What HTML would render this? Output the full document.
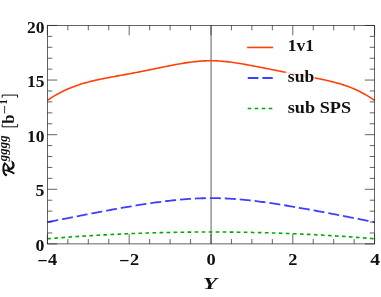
<!DOCTYPE html>
<html><head><meta charset="utf-8">
<style>
html,body{margin:0;padding:0;background:#fff;}
body{width:381px;height:297px;overflow:hidden;}
svg{display:block;will-change:transform;}
text{font-family:"Liberation Serif",serif;font-weight:bold;font-size:16.2px;fill:#111;}
</style></head><body>
<svg width="381" height="297" viewBox="0 0 381 297">
<rect width="381" height="297" fill="#fff"/>
<line x1="211.10" y1="25.45" x2="211.10" y2="243.9" stroke="#8a8a8a" stroke-width="1.4"/>
<path d="M47.40,100.42 L49.04,99.29 L50.69,98.20 L52.33,97.15 L53.98,96.14 L55.62,95.17 L57.27,94.23 L58.91,93.33 L60.55,92.46 L62.20,91.63 L63.84,90.82 L65.49,90.05 L67.13,89.31 L68.77,88.60 L70.42,87.92 L72.06,87.26 L73.71,86.63 L75.35,86.02 L77.00,85.44 L78.64,84.89 L80.28,84.35 L81.93,83.84 L83.57,83.34 L85.22,82.87 L86.86,82.41 L88.51,81.97 L90.15,81.55 L91.79,81.14 L93.44,80.75 L95.08,80.37 L96.73,80.00 L98.37,79.64 L100.02,79.30 L101.66,78.96 L103.30,78.63 L104.95,78.31 L106.59,77.99 L108.24,77.68 L109.88,77.37 L111.52,77.07 L113.17,76.77 L114.81,76.47 L116.46,76.16 L118.10,75.86 L119.75,75.56 L121.39,75.26 L123.03,74.96 L124.68,74.65 L126.32,74.35 L127.97,74.04 L129.61,73.73 L131.26,73.42 L132.90,73.11 L134.54,72.80 L136.19,72.49 L137.83,72.17 L139.48,71.85 L141.12,71.53 L142.76,71.20 L144.41,70.88 L146.05,70.55 L147.70,70.22 L149.34,69.88 L150.99,69.55 L152.63,69.21 L154.27,68.87 L155.92,68.53 L157.56,68.19 L159.21,67.85 L160.85,67.51 L162.50,67.17 L164.14,66.84 L165.78,66.50 L167.43,66.17 L169.07,65.85 L170.72,65.52 L172.36,65.20 L174.01,64.89 L175.65,64.58 L177.29,64.28 L178.94,63.98 L180.58,63.70 L182.23,63.42 L183.87,63.15 L185.51,62.89 L187.16,62.65 L188.80,62.41 L190.45,62.19 L192.09,61.97 L193.74,61.78 L195.38,61.59 L197.02,61.43 L198.67,61.27 L200.31,61.14 L201.96,61.02 L203.60,60.92 L205.25,60.84 L206.89,60.77 L208.53,60.73 L210.18,60.71 L211.82,60.71 L213.47,60.74 L215.11,60.80 L216.75,60.87 L218.40,60.96 L220.04,61.07 L221.69,61.20 L223.33,61.34 L224.98,61.50 L226.62,61.67 L228.26,61.86 L229.91,62.07 L231.55,62.28 L233.20,62.51 L234.84,62.75 L236.49,63.00 L238.13,63.25 L239.77,63.52 L241.42,63.80 L243.06,64.08 L244.71,64.37 L246.35,64.66 L247.99,64.96 L249.64,65.26 L251.28,65.57 L252.93,65.88 L254.57,66.19 L256.22,66.51 L257.86,66.82 L259.50,67.14 L261.15,67.46 L262.79,67.78 L264.44,68.10 L266.08,68.43 L267.73,68.75 L269.37,69.08 L271.01,69.41 L272.66,69.73 L274.30,70.06 L275.95,70.39 L277.59,70.72 L279.24,71.05 L280.88,71.38 L282.52,71.71 L284.17,72.04 L285.81,72.37 L287.46,72.69 L289.10,73.02 L290.74,73.35 L292.39,73.67 L294.03,74.00 L295.68,74.32 L297.32,74.64 L298.97,74.96 L300.61,75.28 L302.25,75.60 L303.90,75.91 L305.54,76.23 L307.19,76.54 L308.83,76.84 L310.48,77.15 L312.12,77.46 L313.76,77.77 L315.41,78.08 L317.05,78.40 L318.70,78.72 L320.34,79.05 L321.98,79.38 L323.63,79.73 L325.27,80.08 L326.92,80.44 L328.56,80.81 L330.21,81.20 L331.85,81.60 L333.49,82.02 L335.14,82.45 L336.78,82.90 L338.43,83.36 L340.07,83.85 L341.72,84.35 L343.36,84.88 L345.00,85.43 L346.65,86.00 L348.29,86.60 L349.94,87.23 L351.58,87.88 L353.23,88.56 L354.87,89.27 L356.51,90.01 L358.16,90.78 L359.80,91.58 L361.45,92.42 L363.09,93.29 L364.73,94.19 L366.38,95.14 L368.02,96.12 L369.67,97.14 L371.31,98.20 L372.96,99.31 L374.60,100.45" fill="none" stroke="#ff4008" stroke-width="1.6" stroke-linejoin="round"/>
<path d="M47.40,222.13 L49.04,221.81 L50.69,221.49 L52.33,221.17 L53.98,220.85 L55.62,220.53 L57.27,220.21 L58.91,219.89 L60.55,219.56 L62.20,219.24 L63.84,218.92 L65.49,218.60 L67.13,218.27 L68.77,217.95 L70.42,217.63 L72.06,217.30 L73.71,216.98 L75.35,216.66 L77.00,216.33 L78.64,216.01 L80.28,215.69 L81.93,215.37 L83.57,215.05 L85.22,214.73 L86.86,214.41 L88.51,214.09 L90.15,213.77 L91.79,213.46 L93.44,213.14 L95.08,212.83 L96.73,212.51 L98.37,212.20 L100.02,211.89 L101.66,211.58 L103.30,211.27 L104.95,210.96 L106.59,210.66 L108.24,210.35 L109.88,210.05 L111.52,209.75 L113.17,209.45 L114.81,209.15 L116.46,208.85 L118.10,208.56 L119.75,208.27 L121.39,207.98 L123.03,207.69 L124.68,207.40 L126.32,207.12 L127.97,206.84 L129.61,206.56 L131.26,206.28 L132.90,206.01 L134.54,205.74 L136.19,205.47 L137.83,205.21 L139.48,204.94 L141.12,204.68 L142.76,204.43 L144.41,204.17 L146.05,203.92 L147.70,203.67 L149.34,203.43 L150.99,203.18 L152.63,202.95 L154.27,202.71 L155.92,202.48 L157.56,202.26 L159.21,202.03 L160.85,201.82 L162.50,201.60 L164.14,201.39 L165.78,201.19 L167.43,200.99 L169.07,200.80 L170.72,200.61 L172.36,200.43 L174.01,200.25 L175.65,200.08 L177.29,199.92 L178.94,199.76 L180.58,199.61 L182.23,199.46 L183.87,199.32 L185.51,199.19 L187.16,199.06 L188.80,198.94 L190.45,198.83 L192.09,198.73 L193.74,198.63 L195.38,198.54 L197.02,198.46 L198.67,198.39 L200.31,198.33 L201.96,198.27 L203.60,198.23 L205.25,198.19 L206.89,198.16 L208.53,198.14 L210.18,198.13 L211.82,198.13 L213.47,198.13 L215.11,198.15 L216.75,198.18 L218.40,198.21 L220.04,198.26 L221.69,198.31 L223.33,198.37 L224.98,198.44 L226.62,198.52 L228.26,198.60 L229.91,198.70 L231.55,198.80 L233.20,198.91 L234.84,199.02 L236.49,199.15 L238.13,199.28 L239.77,199.42 L241.42,199.56 L243.06,199.71 L244.71,199.87 L246.35,200.03 L247.99,200.20 L249.64,200.38 L251.28,200.56 L252.93,200.75 L254.57,200.94 L256.22,201.14 L257.86,201.35 L259.50,201.56 L261.15,201.77 L262.79,201.99 L264.44,202.22 L266.08,202.45 L267.73,202.68 L269.37,202.92 L271.01,203.16 L272.66,203.40 L274.30,203.65 L275.95,203.90 L277.59,204.16 L279.24,204.42 L280.88,204.68 L282.52,204.95 L284.17,205.22 L285.81,205.49 L287.46,205.76 L289.10,206.04 L290.74,206.32 L292.39,206.60 L294.03,206.88 L295.68,207.17 L297.32,207.45 L298.97,207.74 L300.61,208.03 L302.25,208.32 L303.90,208.61 L305.54,208.91 L307.19,209.20 L308.83,209.50 L310.48,209.80 L312.12,210.09 L313.76,210.39 L315.41,210.69 L317.05,211.00 L318.70,211.30 L320.34,211.60 L321.98,211.91 L323.63,212.22 L325.27,212.53 L326.92,212.83 L328.56,213.14 L330.21,213.45 L331.85,213.77 L333.49,214.08 L335.14,214.39 L336.78,214.71 L338.43,215.02 L340.07,215.34 L341.72,215.66 L343.36,215.98 L345.00,216.30 L346.65,216.62 L348.29,216.94 L349.94,217.26 L351.58,217.58 L353.23,217.90 L354.87,218.23 L356.51,218.55 L358.16,218.87 L359.80,219.20 L361.45,219.53 L363.09,219.85 L364.73,220.18 L366.38,220.51 L368.02,220.84 L369.67,221.16 L371.31,221.49 L372.96,221.82 L374.60,222.15" fill="none" stroke="#3e3eff" stroke-width="1.8" stroke-dasharray="11.0 3.95" stroke-linejoin="round"/>
<path d="M47.40,238.76 L49.04,238.62 L50.69,238.49 L52.33,238.35 L53.98,238.22 L55.62,238.09 L57.27,237.97 L58.91,237.84 L60.55,237.71 L62.20,237.59 L63.84,237.47 L65.49,237.34 L67.13,237.22 L68.77,237.11 L70.42,236.99 L72.06,236.87 L73.71,236.76 L75.35,236.64 L77.00,236.53 L78.64,236.42 L80.28,236.31 L81.93,236.20 L83.57,236.10 L85.22,235.99 L86.86,235.89 L88.51,235.79 L90.15,235.68 L91.79,235.58 L93.44,235.49 L95.08,235.39 L96.73,235.29 L98.37,235.20 L100.02,235.11 L101.66,235.02 L103.30,234.93 L104.95,234.84 L106.59,234.75 L108.24,234.66 L109.88,234.58 L111.52,234.49 L113.17,234.41 L114.81,234.33 L116.46,234.25 L118.10,234.18 L119.75,234.10 L121.39,234.02 L123.03,233.95 L124.68,233.88 L126.32,233.81 L127.97,233.74 L129.61,233.67 L131.26,233.60 L132.90,233.54 L134.54,233.47 L136.19,233.41 L137.83,233.35 L139.48,233.29 L141.12,233.23 L142.76,233.17 L144.41,233.12 L146.05,233.06 L147.70,233.01 L149.34,232.96 L150.99,232.91 L152.63,232.86 L154.27,232.81 L155.92,232.76 L157.56,232.72 L159.21,232.67 L160.85,232.63 L162.50,232.59 L164.14,232.55 L165.78,232.51 L167.43,232.47 L169.07,232.44 L170.72,232.41 L172.36,232.37 L174.01,232.34 L175.65,232.31 L177.29,232.28 L178.94,232.26 L180.58,232.23 L182.23,232.20 L183.87,232.18 L185.51,232.16 L187.16,232.14 L188.80,232.12 L190.45,232.10 L192.09,232.09 L193.74,232.07 L195.38,232.06 L197.02,232.04 L198.67,232.03 L200.31,232.02 L201.96,232.02 L203.60,232.01 L205.25,232.00 L206.89,232.00 L208.53,232.00 L210.18,232.00 L211.82,232.00 L213.47,232.00 L215.11,232.00 L216.75,232.00 L218.40,232.01 L220.04,232.02 L221.69,232.02 L223.33,232.03 L224.98,232.04 L226.62,232.06 L228.26,232.07 L229.91,232.09 L231.55,232.10 L233.20,232.12 L234.84,232.14 L236.49,232.16 L238.13,232.18 L239.77,232.20 L241.42,232.23 L243.06,232.26 L244.71,232.28 L246.35,232.31 L247.99,232.34 L249.64,232.37 L251.28,232.41 L252.93,232.44 L254.57,232.47 L256.22,232.51 L257.86,232.55 L259.50,232.59 L261.15,232.63 L262.79,232.67 L264.44,232.72 L266.08,232.76 L267.73,232.81 L269.37,232.86 L271.01,232.91 L272.66,232.96 L274.30,233.01 L275.95,233.06 L277.59,233.12 L279.24,233.17 L280.88,233.23 L282.52,233.29 L284.17,233.35 L285.81,233.41 L287.46,233.47 L289.10,233.54 L290.74,233.60 L292.39,233.67 L294.03,233.74 L295.68,233.81 L297.32,233.88 L298.97,233.95 L300.61,234.02 L302.25,234.10 L303.90,234.18 L305.54,234.25 L307.19,234.33 L308.83,234.41 L310.48,234.49 L312.12,234.58 L313.76,234.66 L315.41,234.75 L317.05,234.84 L318.70,234.93 L320.34,235.02 L321.98,235.11 L323.63,235.20 L325.27,235.29 L326.92,235.39 L328.56,235.49 L330.21,235.58 L331.85,235.68 L333.49,235.79 L335.14,235.89 L336.78,235.99 L338.43,236.10 L340.07,236.20 L341.72,236.31 L343.36,236.42 L345.00,236.53 L346.65,236.64 L348.29,236.76 L349.94,236.87 L351.58,236.99 L353.23,237.11 L354.87,237.22 L356.51,237.34 L358.16,237.47 L359.80,237.59 L361.45,237.71 L363.09,237.84 L364.73,237.97 L366.38,238.09 L368.02,238.22 L369.67,238.35 L371.31,238.49 L372.96,238.62 L374.60,238.76" fill="none" stroke="#00aa00" stroke-width="1.6" stroke-dasharray="3.65 3.37" stroke-linejoin="round"/>
<path d="M47.40,243.9v-9.8 M47.40,25.45v9.8 M67.85,243.9v-4.9 M67.85,25.45v4.9 M88.30,243.9v-4.9 M88.30,25.45v4.9 M108.75,243.9v-4.9 M108.75,25.45v4.9 M129.20,243.9v-9.8 M129.20,25.45v9.8 M149.65,243.9v-4.9 M149.65,25.45v4.9 M170.10,243.9v-4.9 M170.10,25.45v4.9 M190.55,243.9v-4.9 M190.55,25.45v4.9 M211.00,243.9v-9.8 M211.00,25.45v9.8 M231.45,243.9v-4.9 M231.45,25.45v4.9 M251.90,243.9v-4.9 M251.90,25.45v4.9 M272.35,243.9v-4.9 M272.35,25.45v4.9 M292.80,243.9v-9.8 M292.80,25.45v9.8 M313.25,243.9v-4.9 M313.25,25.45v4.9 M333.70,243.9v-4.9 M333.70,25.45v4.9 M354.15,243.9v-4.9 M354.15,25.45v4.9 M374.60,243.9v-9.8 M374.60,25.45v9.8 M47.4,243.90h9.8 M374.6,243.90h-9.8 M47.4,232.98h4.9 M374.6,232.98h-4.9 M47.4,222.06h4.9 M374.6,222.06h-4.9 M47.4,211.13h4.9 M374.6,211.13h-4.9 M47.4,200.21h4.9 M374.6,200.21h-4.9 M47.4,189.29h9.8 M374.6,189.29h-9.8 M47.4,178.37h4.9 M374.6,178.37h-4.9 M47.4,167.44h4.9 M374.6,167.44h-4.9 M47.4,156.52h4.9 M374.6,156.52h-4.9 M47.4,145.60h4.9 M374.6,145.60h-4.9 M47.4,134.68h9.8 M374.6,134.68h-9.8 M47.4,123.75h4.9 M374.6,123.75h-4.9 M47.4,112.83h4.9 M374.6,112.83h-4.9 M47.4,101.91h4.9 M374.6,101.91h-4.9 M47.4,90.98h4.9 M374.6,90.98h-4.9 M47.4,80.06h9.8 M374.6,80.06h-9.8 M47.4,69.14h4.9 M374.6,69.14h-4.9 M47.4,58.22h4.9 M374.6,58.22h-4.9 M47.4,47.29h4.9 M374.6,47.29h-4.9 M47.4,36.37h4.9 M374.6,36.37h-4.9 M47.4,25.45h9.8 M374.6,25.45h-9.8" stroke="#222" stroke-width="0.7" fill="none"/>
<rect x="47.4" y="25.45" width="327.20" height="218.45" fill="none" stroke="#222" stroke-width="0.7"/>
<!-- legend -->
<rect x="285.6" y="68" width="29.2" height="17" fill="#fff" fill-opacity="0.8"/>
<line x1="247.1" y1="47.45" x2="273.1" y2="47.45" stroke="#ff4008" stroke-width="1.6"/>
<line x1="247.75" y1="78.0" x2="272.75" y2="78.0" stroke="#3e3eff" stroke-width="1.8" stroke-dasharray="10.65 4.0"/>
<line x1="247.7" y1="108.5" x2="272.8" y2="108.5" stroke="#00aa00" stroke-width="1.6" stroke-dasharray="3.6 3.4"/>
<text x="287.8" y="50.8" text-anchor="start" textLength="26.2" lengthAdjust="spacingAndGlyphs" >1v1</text>
<text x="287.8" y="82.2" text-anchor="start" textLength="26.4" lengthAdjust="spacingAndGlyphs" >sub</text>
<text x="287.8" y="112.7" text-anchor="start" textLength="63.2" lengthAdjust="spacingAndGlyphs" >sub SPS</text>
<text x="44.4" y="250.9" text-anchor="end" textLength="8.9" lengthAdjust="spacingAndGlyphs" >0</text>
<text x="44.4" y="196.3" text-anchor="end" textLength="8.9" lengthAdjust="spacingAndGlyphs" >5</text>
<text x="44.4" y="141.7" text-anchor="end" textLength="17.5" lengthAdjust="spacingAndGlyphs" >10</text>
<text x="44.4" y="87.1" text-anchor="end" textLength="17.5" lengthAdjust="spacingAndGlyphs" >15</text>
<text x="44.4" y="32.5" text-anchor="end" textLength="17.5" lengthAdjust="spacingAndGlyphs" >20</text>
<path d="M38.30,260.6 h8.4" stroke="#111" stroke-width="1.3" fill="none"/>
<text x="48.1" y="265.2" text-anchor="start" textLength="9.2" lengthAdjust="spacingAndGlyphs" >4</text>
<path d="M120.10,260.6 h8.4" stroke="#111" stroke-width="1.3" fill="none"/>
<text x="129.9" y="265.2" text-anchor="start" textLength="9.2" lengthAdjust="spacingAndGlyphs" >2</text>
<text x="211.1" y="265.2" text-anchor="middle" textLength="9.2" lengthAdjust="spacingAndGlyphs" >0</text>
<text x="292.9" y="265.2" text-anchor="middle" textLength="9.2" lengthAdjust="spacingAndGlyphs" >2</text>
<text x="375.1" y="265.2" text-anchor="middle" textLength="9.8" lengthAdjust="spacingAndGlyphs" >4</text>
<text x="210.2" y="288.7" text-anchor="middle" font-style="italic" textLength="14.2" lengthAdjust="spacingAndGlyphs">Y</text>
<g fill="none" stroke="#111" stroke-linecap="round" stroke-linejoin="round">
<path d="M4.7,163.4 C3.5,165.2 3.1,168 3.4,170.5 C3.7,172.6 4.6,174.4 5.8,175.2 L6.3,174.8" stroke-width="2.1"/>
<path d="M4.9,163.4 C6.6,164.2 8.0,166.2 8.6,168.3" stroke-width="1.4"/>
<path d="M8.6,167.6 L8.6,171" stroke-width="2.0"/>
<path d="M8.6,168.9 C9.8,169.0 10.8,168.9 11.7,168.4 C12.9,167.8 13.5,166.7 13.5,165.5 C13.5,164.6 13.3,163.7 12.8,162.9" stroke-width="2.3"/>
<path d="M12.9,163 C12.6,162.3 12.2,161.7 11.8,161.2" stroke-width="1.1"/>
<path d="M3.8,170.3 C5.6,170.2 7.6,170.5 9.4,171.2" stroke-width="1.4"/>
<path d="M9.4,171.2 C11,171.8 12.6,172.6 13.7,173.3" stroke-width="1.9"/>
</g>
<g transform="translate(14,180) rotate(-90)">
<text x="18.8" y="-6.7" font-style="italic" style="font-size:12px" textLength="25.8" lengthAdjust="spacingAndGlyphs">gggg</text>
<path d="M53.2,-11.8 h2.6 M53.2,3.6 h2.6" stroke="#111" stroke-width="1.0" fill="none"/>
<path d="M53.2,-12.1 v16" stroke="#111" stroke-width="1.0" fill="none"/>
<text x="56.3" y="0" style="font-size:16px" textLength="9.3" lengthAdjust="spacingAndGlyphs">b</text>
<path d="M66.5,-9.4 h7.5" stroke="#111" stroke-width="0.85" fill="none"/>
<text x="75.6" y="-6.7" style="font-size:10.6px">1</text>
<path d="M82.3,-11.8 h2.6 M82.3,3.6 h2.6" stroke="#111" stroke-width="1.0" fill="none"/>
<path d="M84.9,-12.1 v16" stroke="#111" stroke-width="1.0" fill="none"/>
</g>
</svg>
</body></html>
